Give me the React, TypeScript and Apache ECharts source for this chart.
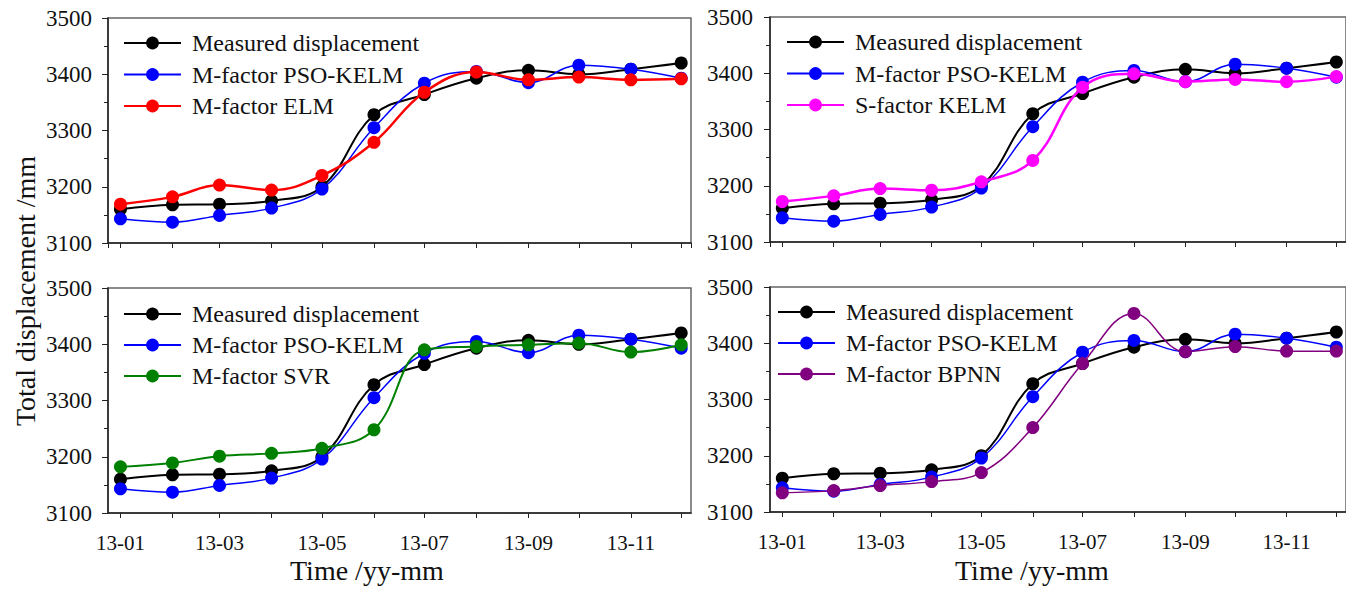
import React, { useEffect, useRef } from 'react';
import * as echarts from 'echarts';

// ---- data ----
const months = ['13-01', '13-02', '13-03', '13-04', '13-05', '13-06', '13-07', '13-08', '13-09', '13-10', '13-11', '13-12'];
const xTickLabels = ['13-01', '13-03', '13-05', '13-07', '13-09', '13-11'];
const yMin = 3100;
const yMax = 3500;
const yStep = 100;

const measured = [3160, 3168, 3169, 3175, 3200, 3328, 3364, 3393, 3407, 3400, 3409, 3420];
const psoKelm = [3143, 3137, 3149, 3162, 3196, 3305, 3384, 3405, 3385, 3416, 3409, 3393];
const mElm = [3169, 3182, 3203, 3194, 3220, 3279, 3368, 3404, 3390, 3395, 3390, 3392];
const sKelm = [3172, 3182, 3195, 3192, 3207, 3245, 3375, 3399, 3385, 3389, 3385, 3394];
const mSvr = [3182, 3189, 3201, 3206, 3215, 3248, 3390, 3396, 3399, 3402, 3386, 3399];
const mBpnn = [3134, 3138, 3147, 3154, 3170, 3250, 3364, 3453, 3385, 3394, 3386, 3386];

const FONT = "'Liberation Serif', 'Times New Roman', serif";

function monthToTime(m: string) {
  const [yy, mm] = m.split('-').map(Number);
  return Date.UTC(2000 + yy, mm - 1, 1);
}
function pad(n: number) {
  return n < 10 ? '0' + n : '' + n;
}

const xMin = Date.UTC(2012, 11, 24, 14);
const xMax = Date.UTC(2013, 11, 6, 20);

const panels = [
  { grid: { left: 108, top: 18 }, legend: { left: 118, top: 26 }, name: 'M-factor ELM', values: mElm, color: '#ff0000', width: 2.5, labels: false },
  { grid: { left: 770, top: 17 }, legend: { left: 781, top: 25 }, name: 'S-factor KELM', values: sKelm, color: '#ff00ff', width: 2.5, labels: false },
  { grid: { left: 108, top: 288 }, legend: { left: 118, top: 297 }, name: 'M-factor SVR', values: mSvr, color: '#008000', width: 2, labels: true },
  { grid: { left: 770, top: 287 }, legend: { left: 772, top: 295 }, name: 'M-factor BPNN', values: mBpnn, color: '#800080', width: 1.5, labels: true },
];

function toPairs(vals: number[]) {
  return months.map((m, i) => [monthToTime(m), vals[i]]);
}

export default function App() {
  const ref = useRef<HTMLDivElement>(null);
  useEffect(() => {
    document.body.style.margin = '0';
    const chart = echarts.init(ref.current!, null, { renderer: 'svg' });
    const grids: any[] = [];
    const xAxes: any[] = [];
    const yAxes: any[] = [];
    const legends: any[] = [];
    const series: any[] = [];
    panels.forEach((p, gi) => {
      grids.push({
        left: p.grid.left,
        top: p.grid.top,
        width: 583,
        height: 225,
        show: true,
        borderColor: '#666',
        borderWidth: 1.5,
        backgroundColor: 'transparent',
      });
      xAxes.push({
        type: 'time',
        gridIndex: gi,
        min: xMin,
        max: xMax,
        splitNumber: 12,
        axisLine: { show: true, lineStyle: { color: '#222', width: 1.5 } },
        axisTick: { show: true, length: 5, lineStyle: { color: '#222', width: 1 } },
        splitLine: { show: false },
        axisLabel: {
          show: p.labels,
          margin: 19,
          fontSize: 21,
          fontFamily: FONT,
          color: '#111',
          formatter: (v: number) => {
            const d = new Date(v);
            if (d.getUTCDate() !== 1 || d.getUTCHours() !== 0) return '';
            const lab = pad(d.getUTCFullYear() % 100) + '-' + pad(d.getUTCMonth() + 1);
            return xTickLabels.indexOf(lab) >= 0 ? lab : '';
          },
        },
      });
      yAxes.push({
        type: 'value',
        gridIndex: gi,
        min: yMin,
        max: yMax,
        interval: yStep,
        axisLine: { show: true, lineStyle: { color: '#222', width: 1.5 } },
        axisTick: { show: true, length: 6, lineStyle: { color: '#222', width: 1 } },
        minorTick: { show: true, splitNumber: 2, length: 4, lineStyle: { color: '#222', width: 1 } },
        splitLine: { show: false },
        axisLabel: {
          margin: gi % 2 === 0 ? 16 : 17,
          fontSize: 23,
          fontFamily: FONT,
          color: '#111',
          formatter: (v: number) => String(v),
        },
      });
      legends.push({
        left: p.legend.left,
        top: p.legend.top,
        orient: 'vertical',
        itemWidth: 57,
        itemHeight: 16,
        itemGap: gi < 2 ? 7.5 : 7,
        data: ['Measured displacement', 'M-factor PSO-KELM', p.name],
        textStyle: { fontSize: 24, fontFamily: FONT, color: '#111', lineHeight: 24, padding: [0, 0, 0, 6] },
        selectedMode: false,
      });
      const mk = (name: string, vals: number[], color: string, width: number, z: number) => ({
        type: 'line',
        name,
        xAxisIndex: gi,
        yAxisIndex: gi,
        data: toPairs(vals),
        smooth: 0.4,
        symbol: 'circle',
        symbolSize: 13,
        z,
        lineStyle: { color, width },
        itemStyle: { color, borderWidth: 0 },
        emphasis: { disabled: true },
      });
      series.push(mk('Measured displacement', measured, '#000000', 2, 2));
      series.push(mk('M-factor PSO-KELM', psoKelm, '#0000ff', 1.5, 3));
      series.push(mk(p.name, p.values, p.color, p.width, 4));
    });

    chart.setOption({
      animation: false,
      useUTC: true,
      backgroundColor: '#ffffff',
      textStyle: { fontFamily: FONT },
      grid: grids,
      xAxis: xAxes,
      yAxis: yAxes,
      legend: legends,
      series,
      graphic: [
        {
          type: 'text',
          left: 290,
          top: 556,
          style: { text: 'Time /yy-mm', fontSize: 28, fontFamily: FONT, fill: '#111' },
        },
        {
          type: 'text',
          left: 955,
          top: 556,
          style: { text: 'Time /yy-mm', fontSize: 28, fontFamily: FONT, fill: '#111' },
        },
        {
          type: 'text',
          x: 25,
          y: 291,
          rotation: Math.PI / 2,
          style: { text: 'Total displacement /mm', fontSize: 28, fontFamily: FONT, fill: '#111', align: 'center', verticalAlign: 'middle' },
        },
      ],
    });
    return () => chart.dispose();
  }, []);
  return <div ref={ref} style={{ width: 1346, height: 589 }} />;
}
